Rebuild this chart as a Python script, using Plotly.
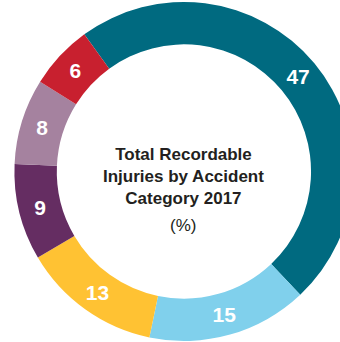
import plotly.graph_objects as go

# accident categories (share of total recordable injuries, %)
categories = ["Category A", "Category B", "Category C", "Category D", "Category E", "Category F"]
values = [47, 15, 13, 9, 8, 6]
colors = ["#006a80", "#80d0ec", "#ffc233", "#652d62", "#a5829f", "#c8202f"]

W, H = 366, 344

fig = go.Figure(data=[go.Pie(
    labels=categories,
    values=values,
    text=[str(v) for v in values],
    textinfo="text",
    textposition="inside",
    insidetextorientation="horizontal",
    insidetextfont=dict(family="Liberation Sans, Arial, sans-serif", size=21, color="white", weight="bold"),
    marker=dict(colors=colors, line=dict(width=0)),
    hole=0.75,
    sort=False,
    direction="clockwise",
    rotation=-36,
    domain=dict(x=[0.005, 1], y=[3 / H, 1 - 2 / H]),
    showlegend=False,
    hoverinfo="label+value",
)])

fig.add_annotation(
    x=0.5, y=1 - 176 / H, xref="paper", yref="paper",
    text="<b>Total Recordable<br>Injuries by Accident<br>Category 2017</b>",
    showarrow=False,
    font=dict(family="Liberation Sans, Arial, sans-serif", size=17, color="#231f20"),
    align="center",
)
fig.add_annotation(
    x=0.5, y=1 - 226 / H, xref="paper", yref="paper",
    text="(%)",
    showarrow=False,
    font=dict(family="Liberation Sans, Arial, sans-serif", size=17, color="#231f20"),
)

fig.update_layout(
    width=W, height=H,
    margin=dict(l=0, r=0, t=0, b=0),
    paper_bgcolor="white",
    plot_bgcolor="white",
)

fig.write_html("out.html", config={"displayModeBar": False},
               post_script="document.body.style.margin='0';document.body.style.overflow='hidden';")
